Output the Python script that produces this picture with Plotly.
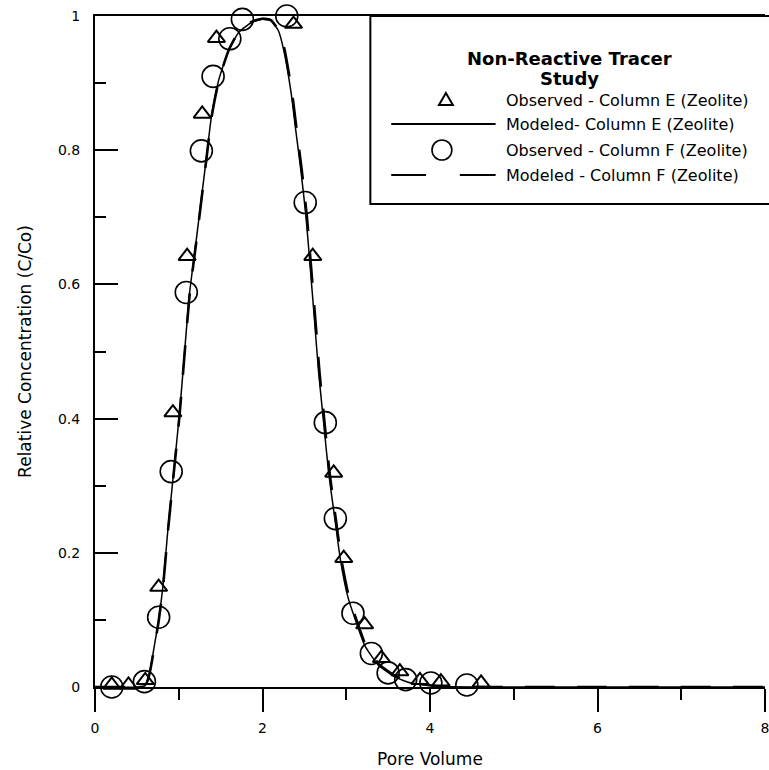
import plotly.graph_objects as go

# ---------------- data ----------------
obs_e_x = [0.20, 0.40, 0.60, 0.76, 0.93, 1.10, 1.28, 1.45, 2.37, 2.60, 2.85, 2.97, 3.22, 3.42, 3.64, 3.88, 4.13, 4.61]
obs_e_y = [0.003, 0.003, 0.010, 0.149, 0.409, 0.642, 0.854, 0.967, 0.988, 0.642, 0.319, 0.192, 0.093, 0.043, 0.023, 0.010, 0.008, 0.006]

obs_f_x = [0.20, 0.40, 0.59, 0.76, 0.91, 1.09, 1.27, 1.41, 1.61, 1.76, 2.29, 2.51, 2.75, 2.87, 3.08, 3.30, 3.50, 3.71, 4.01, 4.44]
obs_f_y = [0.000, -0.002, 0.008, 0.104, 0.321, 0.588, 0.799, 0.910, 0.966, 0.995, 1.000, 0.722, 0.394, 0.251, 0.110, 0.050, 0.021, 0.011, 0.006, 0.003]

mod_e_x = [0, 0.5, 0.60, 0.65, 0.70, 0.76, 0.81, 0.87, 0.93, 1.01, 1.07, 1.13, 1.21, 1.34, 1.39, 1.48,
           1.60, 1.72, 1.88, 2.00, 2.10, 2.19, 2.25, 2.34, 2.40, 2.46, 2.52, 2.57, 2.62, 2.67, 2.73,
           2.79, 2.87, 2.93, 3.02, 3.12, 3.22, 3.38, 3.58, 3.77, 4.09, 4.50, 8.0]
mod_e_y = [0, 0, 0.002, 0.020, 0.055, 0.100, 0.149, 0.234, 0.309, 0.409, 0.500, 0.588, 0.667, 0.799, 0.850, 0.906,
           0.950, 0.976, 0.991, 0.995, 0.993, 0.978, 0.951, 0.887, 0.827, 0.768, 0.700, 0.625, 0.548, 0.469, 0.394,
           0.319, 0.245, 0.190, 0.134, 0.096, 0.062, 0.033, 0.015, 0.006, 0.001, 0, 0]

mod_f_x = [0, 0.5, 0.60, 0.65, 0.70, 0.76, 0.81, 0.87, 0.93, 1.01, 1.07, 1.13, 1.21, 1.34, 1.39, 1.48,
           1.60, 1.72, 1.88, 2.00, 2.10, 2.19, 2.26, 2.35, 2.41, 2.47, 2.53, 2.58, 2.63, 2.68, 2.74,
           2.80, 2.88, 2.94, 3.03, 3.13, 3.23, 3.39, 3.59, 3.78, 4.10, 4.50, 8.0]
mod_f_y = [0, 0, 0.002, 0.019, 0.053, 0.098, 0.146, 0.231, 0.306, 0.406, 0.497, 0.585, 0.664, 0.797, 0.848, 0.905,
           0.950, 0.977, 0.992, 0.996, 0.994, 0.979, 0.952, 0.888, 0.828, 0.769, 0.701, 0.626, 0.549, 0.470, 0.395,
           0.320, 0.246, 0.191, 0.135, 0.097, 0.063, 0.034, 0.016, 0.007, 0.001, 0, 0]

x_ticks = [0, 2, 4, 6, 8]
y_ticks = [0, 0.2, 0.4, 0.6, 0.8, 1]

legend_title = "<b>Non-Reactive Tracer</b>"
legend_title2 = "<b>Study</b>"
legend_labels = ["Observed - Column E (Zeolite)",
                 "Modeled- Column E (Zeolite)",
                 "Observed - Column F (Zeolite)",
                 "Modeled - Column F (Zeolite)"]

# ---------------- layout geometry ----------------
W, H = 769, 770
ML, MR, MT, MB = 95, 0, 16, 83
PW, PH = W - ML - MR, H - MT - MB
FONT = "DejaVu Sans"


def px(xp):
    return (xp - ML) / PW


def py(yp):
    return (H - MB - yp) / PH


fig = go.Figure()

fig.add_trace(go.Scatter(x=mod_f_x, y=mod_f_y, mode="lines",
                         line=dict(color="black", width=2.6, dash="30px,22px", shape="spline", smoothing=0.5),
                         showlegend=False, hoverinfo="skip"))
fig.add_trace(go.Scatter(x=mod_e_x, y=mod_e_y, mode="lines",
                         line=dict(color="black", width=1.5, shape="spline", smoothing=0.5),
                         showlegend=False, hoverinfo="skip"))
fig.add_trace(go.Scatter(x=obs_e_x, y=obs_e_y, mode="markers", cliponaxis=False,
                         marker=dict(symbol="triangle-up-open", size=15, color="black", line=dict(width=2)),
                         showlegend=False))
fig.add_trace(go.Scatter(x=obs_f_x, y=obs_f_y, mode="markers", cliponaxis=False,
                         marker=dict(symbol="circle-open", size=22, color="black", line=dict(width=1.6)),
                         showlegend=False))

# ---------------- manual legend ----------------
shapes = []
shapes.append(dict(type="rect", xref="paper", yref="paper", x0=px(372), x1=px(800), y0=py(204), y1=py(16),
                   line=dict(color="black", width=2), fillcolor="white", layer="above"))
# solid sample
shapes.append(dict(type="line", xref="paper", yref="paper", x0=px(393), x1=px(498), y0=py(124), y1=py(124),
                   line=dict(color="black", width=2), layer="above"))
# dashed sample
shapes.append(dict(type="line", xref="paper", yref="paper", x0=px(393), x1=px(428), y0=py(175), y1=py(175),
                   line=dict(color="black", width=2), layer="above"))
shapes.append(dict(type="line", xref="paper", yref="paper", x0=px(462), x1=px(498), y0=py(175), y1=py(175),
                   line=dict(color="black", width=2), layer="above"))
# triangle symbol
tx, ty = 448, 100
shapes.append(dict(type="path", xref="paper", yref="paper",
                   path=f"M {px(tx-7)} {py(ty+5)} L {px(tx+7)} {py(ty+5)} L {px(tx)} {py(ty-7)} Z",
                   line=dict(color="black", width=2), layer="above"))
# circle symbol
cx, cy, r = 444, 150, 10
shapes.append(dict(type="circle", xref="paper", yref="paper", x0=px(cx - r), x1=px(cx + r),
                   y0=py(cy + r), y1=py(cy - r), line=dict(color="black", width=1.6), layer="above"))

annotations = []
annotations.append(dict(text=legend_title, xref="paper", yref="paper", x=px(572), y=py(59),
                        xanchor="center", yanchor="middle", showarrow=False,
                        font=dict(family=FONT, size=18, color="black")))
annotations.append(dict(text=legend_title2, xref="paper", yref="paper", x=px(572), y=py(79),
                        xanchor="center", yanchor="middle", showarrow=False,
                        font=dict(family=FONT, size=18, color="black")))
for lab, yy in zip(legend_labels, [100, 124, 150, 175]):
    annotations.append(dict(text=lab, xref="paper", yref="paper", x=px(506), y=py(yy),
                            xanchor="left", yanchor="middle", showarrow=False,
                            font=dict(family=FONT, size=16, color="black")))

fig.update_layout(
    width=W, height=H,
    margin=dict(l=ML, r=MR, t=MT, b=MB, pad=0),
    paper_bgcolor="white", plot_bgcolor="white",
    font=dict(family=FONT, color="black", size=14),
    showlegend=False,
    shapes=shapes,
    annotations=annotations,
    xaxis=dict(range=[0, 8], tickvals=x_ticks, ticks="outside", ticklen=23, tickwidth=2,
               tickcolor="black", showline=True, linecolor="black", linewidth=2, mirror=True,
               showgrid=False, zeroline=False, ticklabelstandoff=4, ticklabeloverflow="allow",
               tickfont=dict(family=FONT, size=14),
               minor=dict(dtick=1, ticks="outside", ticklen=11, tickwidth=2, tickcolor="black", showgrid=False),
               title=dict(text="Pore Volume", font=dict(family=FONT, size=17), standoff=18)),
    yaxis=dict(range=[0, 1], tickvals=y_ticks, ticks="inside", ticklen=23, tickwidth=2,
               tickcolor="black", showline=True, linecolor="black", linewidth=2, mirror=False,
               showgrid=False, zeroline=False, ticklabelstandoff=10,
               tickfont=dict(family=FONT, size=14),
               minor=dict(dtick=0.1, ticks="inside", ticklen=11, tickwidth=2, tickcolor="black", showgrid=False),
               title=dict(text="Relative Concentration (C/Co)", font=dict(family=FONT, size=17), standoff=22)),
)

fig.write_html("out.html")
